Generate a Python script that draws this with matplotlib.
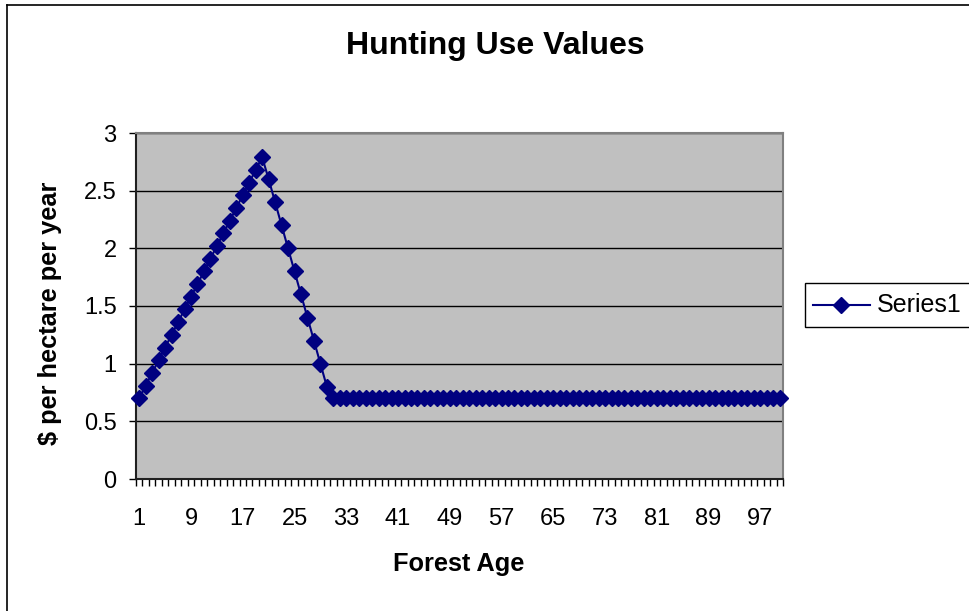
import matplotlib
matplotlib.use("Agg")
import matplotlib.pyplot as plt
from matplotlib.patches import Rectangle
from matplotlib.lines import Line2D

plt.rcParams['font.family'] = ['Liberation Sans', 'DejaVu Sans']

# forest age 1..100 and hunting use value ($ per hectare per year)
ages = list(range(1, 101))
rising = [0.70, 0.81, 0.92, 1.03, 1.14, 1.25, 1.36, 1.47, 1.58, 1.69,
          1.80, 1.91, 2.02, 2.13, 2.24, 2.35, 2.46, 2.57, 2.68, 2.79]
falling = [2.6, 2.4, 2.2, 2.0, 1.8, 1.6, 1.4, 1.2, 1.0, 0.8]
flat = [0.7] * 70
values = rising + falling + flat

yticks = [0, 0.5, 1, 1.5, 2, 2.5, 3]
ytick_labels = ["0", "0.5", "1", "1.5", "2", "2.5", "3"]
xlabel_ages = [1, 9, 17, 25, 33, 41, 49, 57, 65, 73, 81, 89, 97]

W, H = 969, 611
fig = plt.figure(figsize=(W / 100, H / 100), dpi=100)

def fx(px):
    return px / W

def fy(py):
    return 1 - py / H

# chart area border (cropped at right and bottom)
fig.lines.append(Line2D([fx(6.5), fx(6.5)], [fy(4.5), 0], transform=fig.transFigure,
                        color='black', linewidth=1.2))
fig.lines.append(Line2D([fx(6.5), 1], [fy(4.5), fy(4.5)], transform=fig.transFigure,
                        color='black', linewidth=1.2))

left, right, top, bottom = 136, 783, 133, 479
ax = fig.add_axes([fx(left), fy(bottom), (right - left) / W, (bottom - top) / H])
ax.set_facecolor('#C0C0C0')

line, = ax.plot(ages, values, color='#000080', linewidth=1.5, marker='D',
                markersize=8, markerfacecolor='#000080', markeredgecolor='#000080',
                label='Series1', zorder=3, clip_on=False)

ax.set_xlim(0.5, 100.5)
ax.set_ylim(0, 3)
ax.set_yticks(yticks)
ax.set_yticklabels(ytick_labels)
ax.yaxis.grid(True, color='black', linewidth=1)
ax.set_axisbelow(True)

# labels every 8th category, tick marks at category boundaries
ax.set_xticks(xlabel_ages)
ax.set_xticklabels([str(a) for a in xlabel_ages])
ax.set_xticks([a + 0.5 for a in range(0, 101)], minor=True)
ax.tick_params(axis='x', which='major', length=0, pad=21, labelsize=17)
ax.tick_params(axis='x', which='minor', direction='out', length=5, width=1, color='black')
ax.tick_params(axis='y', direction='out', length=5, width=1, labelsize=17, pad=9)

for s in ['left', 'bottom']:
    ax.spines[s].set_color('#202020')
    ax.spines[s].set_linewidth(1.5)
for s in ['top', 'right']:
    ax.spines[s].set_color('#808080')
    ax.spines[s].set_linewidth(1.5)

fig.text(fx(495), fy(46), 'Hunting Use Values', ha='center', va='center',
         fontsize=23, fontweight='bold')
fig.text(fx(459), fy(564), 'Forest Age', ha='center', va='center',
         fontsize=18.3, fontweight='bold')
fig.text(fx(50), fy(313), '$ per hectare per year', ha='center', va='center',
         fontsize=18.3, fontweight='bold', rotation=90)

# legend box (runs off the right edge like the reference)
fig.patches.append(Rectangle((fx(805), fy(327)), fx(200), 44 / H,
                             transform=fig.transFigure, facecolor='white',
                             edgecolor='black', linewidth=1))
fig.lines.append(Line2D([fx(813), fx(870)], [fy(305), fy(305)], transform=fig.transFigure,
                        color='#000080', linewidth=1.5))
fig.lines.append(Line2D([fx(841)], [fy(305)], transform=fig.transFigure,
                        color='#000080', marker='D', markersize=8, linestyle='none'))
fig.text(fx(877), fy(305), line.get_label(), ha='left', va='center', fontsize=18)

fig.savefig('out.png', dpi=100)
